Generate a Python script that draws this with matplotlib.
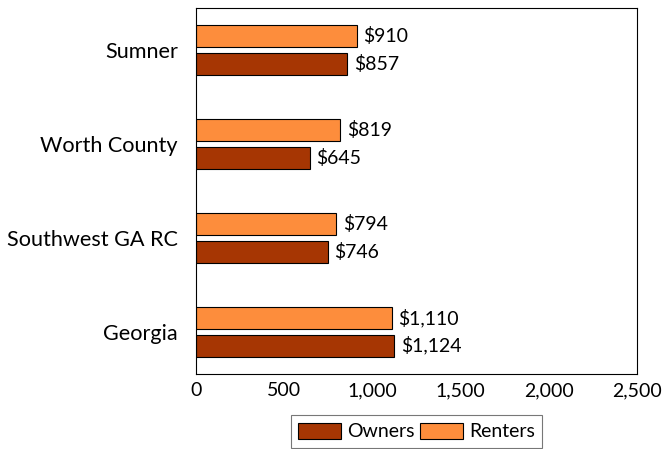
import matplotlib
matplotlib.use("Agg")
import matplotlib.pyplot as plt
import numpy as np
from matplotlib.ticker import FuncFormatter

plt.rcParams['font.family'] = ['Lato', 'DejaVu Sans']

categories = ["Georgia", "Southwest GA RC", "Worth County", "Sumner"]
owners = [1124, 746, 645, 857]
renters = [1110, 794, 819, 910]
xticks = [0, 500, 1000, 1500, 2000, 2500]

fig = plt.figure(figsize=(6.65, 4.49), dpi=100)
ax = fig.add_axes([196/665, 1-374/449, (637-196)/665, (374-8)/449])

y = np.arange(len(categories))
h = 0.234
off = 0.144
c_own = "#a63603"
c_rent = "#fd8d3c"
b1 = ax.barh(y - off, owners, height=h, color=c_own, edgecolor="black", linewidth=0.8, label="Owners")
b2 = ax.barh(y + off, renters, height=h, color=c_rent, edgecolor="black", linewidth=0.8, label="Renters")

for bars, vals in ((b1, owners), (b2, renters)):
    for rect, v in zip(bars, vals):
        ax.text(v + 38, rect.get_y() + rect.get_height()/2, f"${v:,}", va="center", ha="left", fontsize=14)

ax.set_xlim(0, 2500)
ax.set_ylim(-0.447, 3.447)
ax.set_yticks(y)
ax.set_yticklabels(categories, fontsize=15.6)
ax.set_xticks(xticks)
ax.xaxis.set_major_formatter(FuncFormatter(lambda v, p: f"{int(v):,}"))
ax.tick_params(axis='x', labelsize=14, length=0, pad=6)
ax.tick_params(axis='y', length=0, pad=13)
for s in ax.spines.values():
    s.set_linewidth(0.8)

leg = fig.legend(handles=[b1, b2], loc="lower center", bbox_to_anchor=(416.5/665, -0.02), ncol=2,
                 fontsize=14, frameon=True, fancybox=False, edgecolor="#555555",
                 handlelength=2.2, handleheight=0.9, handletextpad=0.3, columnspacing=0.3,
                 borderpad=0.4)
leg.get_frame().set_linewidth(0.8)

fig.savefig("out.png", dpi=100)
